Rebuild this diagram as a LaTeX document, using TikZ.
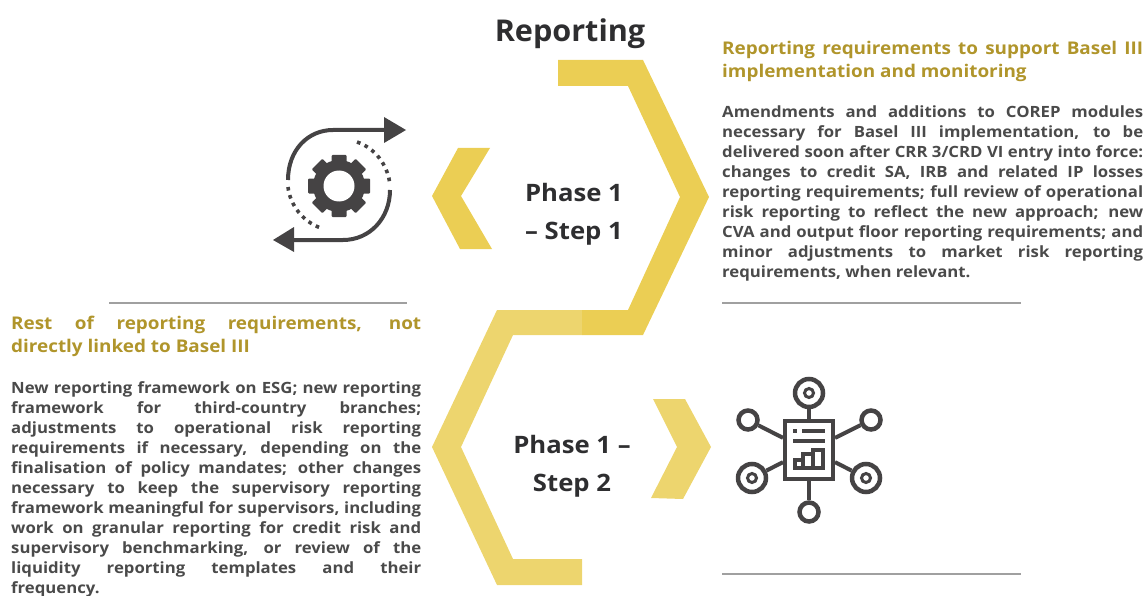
\documentclass[tikz,border=0pt]{standalone}
\usepackage{fontspec}
\setmainfont{Open Sans}[BoldFont={Open Sans Bold},BoldFeatures={FakeStretch=1.08}]
\newfontfamily\phasefont{Open Sans}[BoldFont={Open Sans Bold},BoldFeatures={FakeStretch=1.07}]
\newfontfamily\titlefont{Open Sans}[BoldFont={Open Sans Bold},BoldFeatures={FakeStretch=1.02}]
\definecolor{ydark}{HTML}{EBCE54}
\definecolor{ylight}{HTML}{EDD56E}
\definecolor{headc}{HTML}{B0952B}
\definecolor{bodyc}{HTML}{4A4A4A}
\definecolor{icon}{HTML}{454344}
\definecolor{rulec}{HTML}{A0A0A0}
\definecolor{titlec}{HTML}{2E2E30}
\newcommand{\jR}[1]{\makebox[421pt][s]{#1}\\}
\newcommand{\jL}[1]{\makebox[410pt][s]{#1}\\}
\tikzset{
  x=1pt,y=-1pt,
  sep/.style={draw=rulec,line width=2pt},
  heading/.style={anchor=north west,inner sep=0pt,align=left,text=headc,font=\bfseries\fontsize{17.5}{23}\selectfont},
  bodytext/.style={anchor=north west,inner sep=0pt,align=left,text=bodyc,font=\bfseries\fontsize{15.5}{20}\selectfont},
  phase/.style={inner sep=0pt,align=center,text=titlec,font=\phasefont\bfseries\fontsize{24}{38}\selectfont},
  iconline/.style={draw=icon,line width=4pt},
  icondots/.style={draw=icon,line width=3.6pt,dash pattern=on 3.6pt off 4.7pt},
  ring/.style={draw=icon,line width=4.5pt,fill=white,circle,minimum size=#1,inner sep=0pt},
  spoke/.style={draw=icon,line width=4pt},
}
\begin{document}
\begin{tikzpicture}
\useasboundingbox (0,0) rectangle (1147,596);
% hexagon bands
\fill[ylight] (582,310) -- (497,310) -- (432,447) -- (497,585) -- (582,585) -- (582,559) -- (513,559) -- (461,447) -- (513,335) -- (582,335) -- cycle;
\fill[ydark] (558,60) -- (643,60) -- (709,197) -- (643,335) -- (582,335) -- (582,310) -- (628,310) -- (680,197) -- (628,86) -- (558,86) -- cycle;
% chevrons
\fill[ydark] (458,148) -- (490,148) -- (461,196) -- (492,249) -- (460,249) -- (432,196) -- cycle;
\fill[ylight] (653,399) -- (685,399) -- (711,447) -- (683,499) -- (651,498) -- (677,447) -- cycle;
% rules
\coordinate (r1a) at (109,303); \coordinate (r1b) at (407,303);
\coordinate (r2a) at (722,303); \coordinate (r2b) at (1021,303);
\coordinate (r3a) at (722,574); \coordinate (r3b) at (1021,574);
\draw[sep] (r1a) -- (r1b);
\draw[sep] (r2a) -- (r2b);
\draw[sep] (r3a) -- (r3b);
% texts
\node[inner sep=0pt,text=titlec,font=\titlefont\bfseries\fontsize{30}{36}\selectfont] (title) at (570,33.5) {Reporting};
\node[phase] (ph1) at (574,214) {Phase 1\\– Step 1};
\node[phase] (ph2) at (572,466) {Phase 1 –\\Step 2};
\node[heading] (h1) at (722,41) {\jR{Reporting requirements to support Basel III}implementation and monitoring};
\node[bodytext] (b1) at (722,106) {%
\jR{Amendments and additions to COREP modules}%
\jR{necessary for Basel III implementation, to be}%
\jR{delivered soon after CRR 3/CRD VI entry into force:}%
\jR{changes to credit SA, IRB and related IP losses}%
\jR{reporting requirements; full review of operational}%
\jR{risk reporting to reflect the new approach; new}%
\jR{CVA and output floor reporting requirements; and}%
\jR{minor adjustments to market risk reporting}%
requirements, when relevant.};
\node[heading] (h2) at (11,316) {\jL{Rest of reporting requirements, not}directly linked to Basel III};
\node[bodytext] (b2) at (11,381) {%
\jL{New reporting framework on ESG; new reporting}%
\jL{framework for third-country branches;}%
\jL{adjustments to operational risk reporting}%
\jL{requirements if necessary, depending on the}%
\jL{finalisation of policy mandates; other changes}%
\jL{necessary to keep the supervisory reporting}%
\jL{framework meaningful for supervisors, including}%
\jL{work on granular reporting for credit risk and}%
\jL{supervisory benchmarking, or review of the}%
\jL{liquidity reporting templates and their}%
frequency.};
% gear icon
\coordinate (gc) at (339,186);
\fill[icon] (gc) circle (26);
\foreach \a in {0,45,...,315}{
  \fill[icon,rounded corners=1pt,shift={(gc)},rotate=\a] (-7.5,-31) rectangle (7.5,-20);
}
\fill[white] (gc) circle (15.5);
\draw[iconline] (288,180) .. controls (288,150) and (308,130) .. (333,130) -- (385,130);
\fill[icon] (384,117) -- (406,130) -- (384,143) -- cycle;
\draw[iconline] (390,190) .. controls (390,218) and (370,240) .. (343,240) -- (293,240);
\fill[icon] (294,227) -- (273,240) -- (294,252) -- cycle;
\draw[icondots] (357,142) .. controls (375,148) and (388,165) .. (390,185);
\draw[icondots] (288,187) .. controls (290,205) and (303,222) .. (321,228);
% network icon
\coordinate (doc) at (809,450);
\node[ring=28pt] (nT) at (809,393) {};
\node[ring=28pt] (nBL) at (752,478) {};
\node[ring=28pt] (nBR) at (866,478) {};
\node[ring=19pt] (nTL) at (748,420) {};
\node[ring=19pt] (nTR) at (871,420) {};
\node[ring=19pt] (nB) at (809,512) {};
\foreach \n in {nT,nBL,nBR}{
  \node[draw=icon,line width=3pt,circle,minimum size=9pt,inner sep=0pt] at (\n) {};
}
\node[draw=icon,line width=4pt,fill=white,minimum width=48pt,minimum height=58pt,inner sep=0pt] (page) at (doc) {};
\draw[spoke] (nT) -- (page);
\draw[spoke] (nB) -- (page);
\draw[spoke] (nTL) -- (page.155);
\draw[spoke] (nTR) -- (page.25);
\draw[spoke] (nBL) -- (page.205);
\draw[spoke] (nBR) -- (page.335);
\draw[icon,line width=3.5pt] (793,431) -- (797,431);
\draw[icon,line width=3.5pt] (802,431) -- (825,431);
\draw[icon,line width=3.5pt] (793,441) -- (825,441);
\draw[icon,line width=3.2pt] (795,468) rectangle (803,460);
\draw[icon,line width=3.2pt] (803,468) rectangle (813,454);
\draw[icon,line width=3.2pt] (813,468) rectangle (823,450);
\end{tikzpicture}
\end{document}
